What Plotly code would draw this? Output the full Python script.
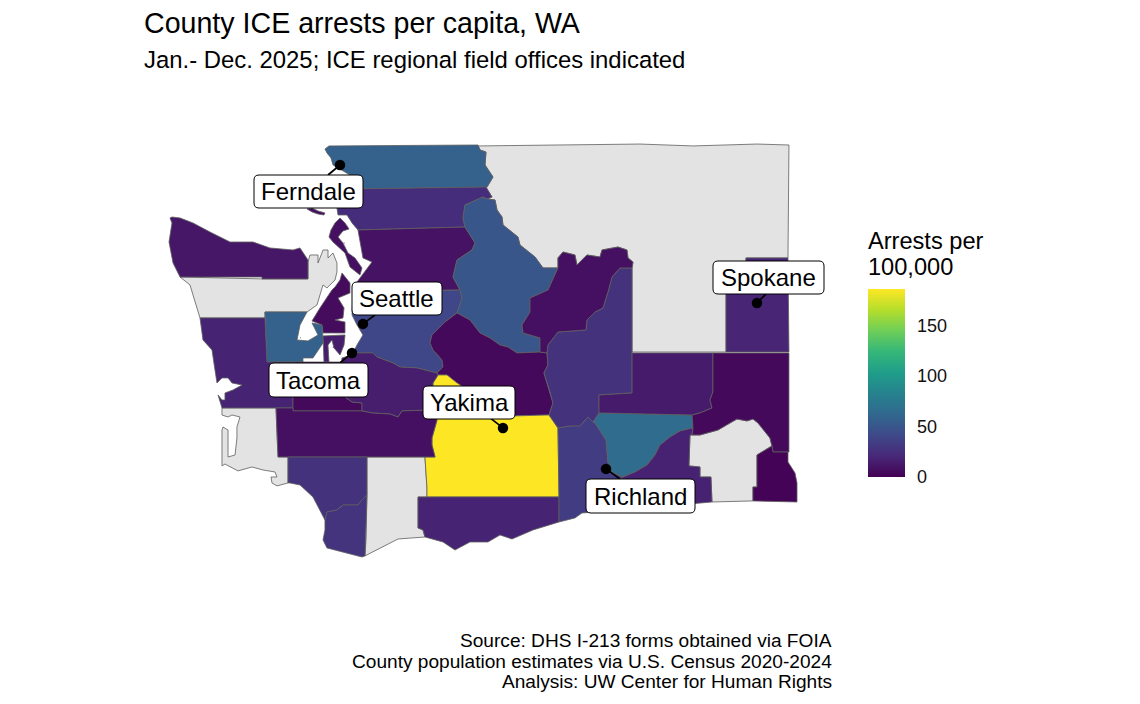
import plotly.graph_objects as go
from plotly.colors import sample_colorscale

# ---- values (arrests per 100,000; None = no data) ----
COUNTIES = ["Northeast", "Jefferson", "Pacific", "Skamania", "Columbia",
            "Whatcom", "Skagit", "San Juan", "Island", "Snohomish", "King", "Chelan", "Kittitas",
            "Yakima", "Clallam", "Kitsap", "Mason", "Grays Harbor", "Thurston", "Pierce",
            "Key Peninsula", "Lewis", "Cowlitz", "Clark", "Klickitat", "Benton", "Franklin",
            "Walla Walla", "Grant", "Douglas", "Adams", "Whitman", "Asotin", "Spokane"]
ARRESTS = [None, None, None, None, None,
           58, 24, 8, 8, 9, 40, 50, 4,
           186, 11, 6, 58, 18, 4, 15,
           15, 8, 27, 28, 18, 33, 65,
           17, 27, 8, 14, 4, 1, 19]
COLORBAR_TICKS = [0, 50, 100, 150]
COLOR_MAX = 186

CITIES = ["Ferndale", "Seattle", "Tacoma", "Yakima", "Richland", "Spokane"]
CITY_LON = [-122.618, -122.333, -122.469, -120.594, -119.314, -117.439]
CITY_LAT = [48.832, 47.497, 47.253, 46.623, 46.279, 47.673]
LEADER_LON = [-122.767, -122.184, -122.618, -120.755, -119.141, -117.327]
LEADER_LAT = [48.748, 47.572, 47.169, 46.707, 46.194, 47.749]

# ---- county outlines (lon, lat in degrees) ----
NORTHEAST = [(-120.904,48.992),(-118.892,49.008),(-118.234,48.992),(-117.439,49.008),(-117.042,49.000),(-117.054,48.051),(-117.576,48.051),(-117.576,47.824),(-117.824,47.824),(-117.824,47.261),(-118.991,47.261),(-118.991,47.967),(-118.979,48.017),(-119.041,48.051),(-119.054,48.118),(-119.165,48.143),(-119.364,48.118),(-119.389,48.059),(-119.551,48.076),(-119.675,47.992),(-119.700,48.076),(-119.849,48.101),(-119.911,48.051),(-119.911,47.967),(-120.097,47.967),(-120.196,48.059),(-120.383,48.160),(-120.408,48.227),(-120.594,48.328),(-120.606,48.395),(-120.668,48.454),(-120.693,48.538),(-120.792,48.546),(-120.730,48.563),(-120.805,48.647),(-120.792,48.647),(-120.718,48.731),(-120.817,48.832),(-120.805,48.941),(-120.879,48.958)]
JEFFERSON = [(-124.605,47.891),(-123.587,47.875),(-123.016,47.875),(-123.016,48.017),(-122.991,48.076),(-122.891,48.076),(-122.891,48.009),(-122.829,48.118),(-122.767,48.118),(-122.767,48.051),(-122.705,48.093),(-122.656,48.009),(-122.656,47.933),(-122.680,47.866),(-122.780,47.799),(-122.829,47.824),(-122.867,47.740),(-122.904,47.656),(-123.028,47.597),(-123.550,47.597),(-123.550,47.547),(-124.357,47.547),(-124.444,47.740),(-124.481,47.824)]
PACIFIC = [(-124.084,46.791),(-123.413,46.791),(-123.401,46.564),(-123.388,46.379),(-123.264,46.379),(-123.264,46.161),(-123.401,46.136),(-123.463,46.161),(-123.475,46.211),(-123.401,46.211),(-123.425,46.253),(-123.574,46.270),(-123.711,46.295),(-123.885,46.262),(-124.047,46.320),(-124.084,46.304),(-124.084,46.606),(-124.071,46.631),(-124.009,46.606),(-124.009,46.379),(-123.922,46.396),(-123.898,46.539),(-123.898,46.631),(-123.860,46.715),(-123.960,46.732),(-124.009,46.715),(-124.084,46.732)]
SKAMANIA = [(-122.283,46.379),(-121.563,46.379),(-121.538,46.119),(-121.538,46.043),(-121.649,46.043),(-121.649,45.783),(-121.587,45.766),(-121.563,45.707),(-121.898,45.690),(-122.308,45.548),(-122.295,45.682),(-122.283,46.060)]
COLUMBIA = [(-118.271,46.564),(-118.147,46.564),(-117.923,46.606),(-117.774,46.665),(-117.688,46.698),(-117.563,46.682),(-117.489,46.698),(-117.427,46.665),(-117.278,46.539),(-117.253,46.472),(-117.439,46.396),(-117.439,46.127),(-117.489,46.127),(-117.489,46.010),(-117.998,46.001),(-118.011,46.211),(-118.147,46.211),(-118.147,46.295),(-118.284,46.304)]
WHATCOM = [(-122.755,48.992),(-120.904,49.000),(-120.879,48.958),(-120.805,48.941),(-120.817,48.832),(-120.718,48.731),(-120.792,48.647),(-122.531,48.630),(-122.494,48.748),(-122.705,48.832),(-122.730,48.891),(-122.780,48.933),(-122.805,48.966)]
SKAGIT = [(-122.531,48.630),(-120.879,48.647),(-120.805,48.647),(-120.730,48.563),(-120.792,48.546),(-120.842,48.563),(-121.066,48.496),(-121.091,48.387),(-121.066,48.311),(-122.395,48.286),(-122.469,48.345),(-122.531,48.412),(-122.643,48.412),(-122.656,48.471),(-122.531,48.496)]
SAN_JUAN = [(-123.028,48.463),(-122.966,48.471),(-122.891,48.446),(-122.805,48.429),(-122.817,48.412),(-122.891,48.420),(-122.966,48.438)]
ISLAND = [(-122.618,48.387),(-122.556,48.345),(-122.506,48.294),(-122.581,48.278),(-122.643,48.227),(-122.581,48.177),(-122.519,48.093),(-122.432,48.051),(-122.345,47.967),(-122.370,47.908),(-122.494,47.975),(-122.556,48.093),(-122.705,48.185),(-122.755,48.227),(-122.730,48.286),(-122.680,48.345)]
SNOHOMISH = [(-122.395,48.286),(-121.066,48.311),(-120.941,48.177),(-120.979,48.118),(-121.165,48.034),(-121.215,47.891),(-121.128,47.782),(-122.457,47.765),(-122.407,47.849),(-122.283,47.967),(-122.221,48.017),(-122.333,48.051)]
KING = [(-122.457,47.765),(-121.128,47.782),(-121.103,47.715),(-121.165,47.589),(-121.314,47.513),(-121.476,47.404),(-121.500,47.337),(-121.463,47.278),(-121.351,47.194),(-121.339,47.135),(-121.413,47.085),(-121.662,47.127),(-121.873,47.135),(-121.960,47.169),(-122.159,47.219),(-122.208,47.253),(-122.457,47.253),(-122.407,47.320),(-122.333,47.404),(-122.407,47.488),(-122.469,47.572)]
CHELAN = [(-120.842,48.563),(-120.792,48.546),(-120.693,48.538),(-120.668,48.454),(-120.606,48.395),(-120.594,48.328),(-120.408,48.227),(-120.383,48.160),(-120.196,48.059),(-120.097,47.967),(-119.911,47.967),(-120.035,47.782),(-120.258,47.715),(-120.258,47.597),(-120.358,47.488),(-120.345,47.421),(-120.134,47.379),(-120.134,47.261),(-120.420,47.253),(-120.532,47.303),(-120.631,47.320),(-120.755,47.379),(-120.879,47.421),(-121.004,47.530),(-121.165,47.589),(-121.103,47.715),(-121.128,47.782),(-121.215,47.891),(-121.165,48.034),(-120.979,48.118),(-120.941,48.177),(-121.066,48.311),(-121.091,48.387),(-121.066,48.496)]
KITTITAS = [(-121.165,47.589),(-121.004,47.530),(-120.879,47.421),(-120.755,47.379),(-120.631,47.320),(-120.532,47.303),(-120.420,47.253),(-120.134,47.261),(-120.047,47.253),(-120.035,47.152),(-120.085,47.085),(-120.010,46.925),(-119.973,46.833),(-120.022,46.732),(-120.445,46.724),(-120.755,46.816),(-121.165,47.001),(-121.289,47.068),(-121.401,47.068),(-121.413,47.085),(-121.339,47.135),(-121.351,47.194),(-121.463,47.278),(-121.500,47.337),(-121.476,47.404),(-121.314,47.513)]
YAKIMA = [(-121.401,47.068),(-121.289,47.068),(-121.165,47.001),(-120.755,46.816),(-120.445,46.724),(-120.022,46.732),(-119.911,46.623),(-119.898,46.043),(-121.538,46.043),(-121.538,46.119),(-121.563,46.379),(-121.438,46.379),(-121.476,46.480),(-121.476,46.539),(-121.438,46.631),(-121.413,46.690),(-121.476,46.774),(-121.463,47.001)]
CLALLAM = [(-124.730,48.387),(-124.705,48.395),(-124.605,48.387),(-124.444,48.345),(-124.233,48.269),(-123.984,48.185),(-123.699,48.185),(-123.488,48.135),(-123.202,48.118),(-123.115,48.135),(-123.016,48.034),(-123.016,47.875),(-123.587,47.875),(-123.587,47.891),(-124.605,47.891),(-124.692,48.009),(-124.742,48.185),(-124.705,48.345)]
KITSAP = [(-122.593,47.925),(-122.494,47.841),(-122.494,47.757),(-122.643,47.715),(-122.568,47.631),(-122.581,47.547),(-122.680,47.530),(-122.556,47.513),(-122.556,47.421),(-122.829,47.421),(-122.842,47.488),(-122.966,47.522),(-122.867,47.631),(-122.718,47.782),(-122.680,47.807),(-122.618,47.866)]
MASON = [(-123.550,47.597),(-123.028,47.597),(-123.115,47.488),(-123.152,47.362),(-123.016,47.354),(-122.891,47.404),(-122.966,47.505),(-122.842,47.488),(-122.829,47.379),(-122.829,47.337),(-122.904,47.261),(-122.954,47.211),(-123.078,47.211),(-123.078,47.177),(-123.525,47.177),(-123.537,47.362),(-123.550,47.547)]
GRAYS_HARBOR = [(-124.357,47.547),(-123.550,47.547),(-123.525,47.177),(-123.202,47.177),(-123.202,46.791),(-123.413,46.791),(-124.084,46.791),(-124.133,46.900),(-124.084,46.858),(-124.047,46.858),(-124.047,46.917),(-123.947,46.942),(-123.835,46.984),(-123.960,47.001),(-124.009,47.043),(-124.084,47.043),(-124.146,47.001),(-124.171,47.110),(-124.208,47.278),(-124.320,47.362)]
THURSTON = [(-123.202,47.177),(-122.556,47.177),(-122.556,46.883),(-122.469,46.841),(-122.345,46.833),(-122.345,46.766),(-123.202,46.766)]
PIERCE = [(-122.457,47.253),(-122.208,47.253),(-122.159,47.219),(-121.960,47.169),(-121.873,47.135),(-121.662,47.127),(-121.413,47.085),(-121.401,47.068),(-121.463,47.001),(-121.476,46.774),(-121.848,46.766),(-121.898,46.715),(-121.997,46.740),(-122.221,46.749),(-122.345,46.766),(-122.345,46.833),(-122.469,46.841),(-122.556,46.883),(-122.643,46.984),(-122.593,47.211),(-122.469,47.236)]
KEY_PENINSULA = [(-122.829,47.396),(-122.556,47.404),(-122.568,47.320),(-122.618,47.236),(-122.693,47.295),(-122.718,47.362),(-122.767,47.320),(-122.755,47.177),(-122.817,47.177)]
LEWIS = [(-123.413,46.791),(-123.202,46.791),(-123.202,46.766),(-122.345,46.766),(-122.221,46.749),(-121.997,46.740),(-121.898,46.715),(-121.848,46.766),(-121.476,46.774),(-121.413,46.690),(-121.438,46.631),(-121.476,46.539),(-121.476,46.480),(-121.438,46.379),(-123.388,46.379),(-123.401,46.564)]
COWLITZ = [(-123.264,46.379),(-122.283,46.379),(-122.283,46.060),(-122.345,46.018),(-122.395,45.976),(-122.581,45.976),(-122.656,45.934),(-122.780,45.917),(-122.805,45.850),(-122.954,46.043),(-123.115,46.144),(-123.239,46.161),(-123.264,46.161)]
CLARK = [(-122.805,45.850),(-122.780,45.917),(-122.656,45.934),(-122.581,45.976),(-122.395,45.976),(-122.345,46.018),(-122.283,46.060),(-122.295,45.682),(-122.308,45.548),(-122.345,45.539),(-122.531,45.573),(-122.780,45.615),(-122.829,45.682),(-122.805,45.766)]
KLICKITAT = [(-121.649,46.043),(-119.898,46.043),(-119.898,45.833),(-120.221,45.766),(-120.482,45.690),(-120.631,45.724),(-120.780,45.665),(-121.004,45.665),(-121.190,45.598),(-121.339,45.665),(-121.563,45.707),(-121.587,45.766),(-121.649,45.783)]
BENTON = [(-119.911,46.623),(-119.762,46.640),(-119.638,46.640),(-119.538,46.715),(-119.476,46.673),(-119.451,46.665),(-119.314,46.522),(-119.290,46.337),(-119.240,46.253),(-119.103,46.211),(-119.414,45.917),(-119.613,45.909),(-119.700,45.867),(-119.898,45.833),(-119.898,46.043)]
FRANKLIN = [(-119.401,46.749),(-118.246,46.732),(-118.234,46.623),(-118.395,46.598),(-118.519,46.547),(-118.644,46.480),(-118.706,46.396),(-118.805,46.312),(-118.954,46.253),(-119.103,46.211),(-119.240,46.253),(-119.290,46.337),(-119.314,46.522),(-119.451,46.665),(-119.476,46.673)]
WALLA_WALLA = [(-119.103,46.211),(-118.954,46.253),(-118.805,46.312),(-118.706,46.396),(-118.644,46.480),(-118.519,46.547),(-118.395,46.598),(-118.234,46.623),(-118.246,46.564),(-118.271,46.564),(-118.284,46.304),(-118.147,46.295),(-118.147,46.211),(-118.011,46.211),(-117.998,46.001),(-119.414,45.917)]
GRANT = [(-119.141,47.967),(-118.991,47.967),(-118.991,46.917),(-119.401,46.900),(-119.401,46.749),(-119.476,46.673),(-119.538,46.715),(-119.638,46.640),(-119.762,46.640),(-119.911,46.623),(-120.022,46.732),(-119.973,46.833),(-120.010,46.925),(-120.085,47.085),(-120.035,47.152),(-120.047,47.253),(-120.035,47.320),(-119.911,47.429),(-119.563,47.446),(-119.551,47.530),(-119.451,47.597),(-119.352,47.631),(-119.290,47.765),(-119.240,47.891)]
DOUGLAS = [(-119.911,48.051),(-119.849,48.101),(-119.700,48.076),(-119.675,47.992),(-119.551,48.076),(-119.389,48.059),(-119.364,48.118),(-119.165,48.143),(-119.054,48.118),(-119.041,48.051),(-118.979,48.017),(-118.991,47.967),(-119.141,47.967),(-119.240,47.891),(-119.290,47.765),(-119.352,47.631),(-119.451,47.597),(-119.551,47.530),(-119.563,47.446),(-119.911,47.429),(-120.035,47.320),(-120.047,47.253),(-120.134,47.261),(-120.134,47.379),(-120.345,47.421),(-120.358,47.488),(-120.258,47.597),(-120.258,47.715),(-120.035,47.782),(-119.911,47.967)]
ADAMS = [(-118.991,47.253),(-117.986,47.253),(-117.986,46.925),(-118.023,46.858),(-117.998,46.791),(-118.147,46.749),(-118.246,46.732),(-119.401,46.749),(-119.401,46.900),(-118.991,46.917)]
WHITMAN = [(-117.986,47.253),(-117.042,47.253),(-117.042,46.421),(-117.240,46.421),(-117.253,46.472),(-117.278,46.539),(-117.427,46.665),(-117.489,46.698),(-117.563,46.682),(-117.688,46.698),(-117.774,46.665),(-117.923,46.606),(-118.147,46.564),(-118.246,46.564),(-118.234,46.623),(-118.246,46.732),(-118.147,46.749),(-117.998,46.791),(-118.023,46.858),(-117.986,46.925)]
ASOTIN = [(-117.439,46.396),(-117.253,46.472),(-117.240,46.421),(-117.054,46.421),(-117.054,46.337),(-116.967,46.245),(-116.942,46.161),(-116.942,46.001),(-117.489,46.010),(-117.489,46.127),(-117.439,46.127)]
SPOKANE = [(-117.576,48.051),(-117.054,48.051),(-117.042,47.261),(-117.824,47.261),(-117.824,47.824),(-117.576,47.824)]

OUTLINES = [NORTHEAST, JEFFERSON, PACIFIC, SKAMANIA, COLUMBIA,
            WHATCOM, SKAGIT, SAN_JUAN, ISLAND, SNOHOMISH, KING, CHELAN, KITTITAS,
            YAKIMA, CLALLAM, KITSAP, MASON, GRAYS_HARBOR, THURSTON, PIERCE,
            KEY_PENINSULA, LEWIS, COWLITZ, CLARK, KLICKITAT, BENTON, FRANKLIN,
            WALLA_WALLA, GRANT, DOUGLAS, ADAMS, WHITMAN, ASOTIN, SPOKANE]

W, H = 1140, 704
NA_COLOR = "#E3E3E3"
BORDER = "#5E5E5E"


def px(x):
    return x / W


def py(y):
    return 1 - y / H


fig = go.Figure()

# colour scale carrier, hidden beneath the county fills
have = [i for i, v in enumerate(ARRESTS) if v is not None]
fig.add_trace(go.Scatter(
    x=[sum(p[0] for p in OUTLINES[i]) / len(OUTLINES[i]) for i in have],
    y=[sum(p[1] for p in OUTLINES[i]) / len(OUTLINES[i]) for i in have],
    mode="markers", hoverinfo="skip", showlegend=False,
    marker=dict(size=1, color=[ARRESTS[i] for i in have], colorscale="Viridis",
                cmin=0, cmax=COLOR_MAX, showscale=True,
                colorbar=dict(lenmode="pixels", len=187.5, thickness=37, thicknessmode="pixels",
                              x=px(868), xanchor="left", y=py(477), yanchor="bottom",
                              xpad=0, ypad=0, outlinewidth=0, tickvals=COLORBAR_TICKS,
                              ticks="outside", ticklen=9, tickcolor="rgba(0,0,0,0)",
                              tickwidth=1, tickfont=dict(family="Liberation Sans", size=18, color="#111")))))

for name, value, outline in zip(COUNTIES, ARRESTS, OUTLINES):
    color = NA_COLOR if value is None else sample_colorscale("Viridis", [value / COLOR_MAX])[0]
    xs = [p[0] for p in outline] + [outline[0][0]]
    ys = [p[1] for p in outline] + [outline[0][1]]
    fig.add_trace(go.Scatter(x=xs, y=ys, mode="lines", fill="toself", fillcolor=color,
                             line=dict(color=BORDER, width=0.8), name=name, showlegend=False,
                             hoverinfo="text", text=f"{name}: {value if value is not None else 'no data'}"))

for i in range(len(CITIES)):
    fig.add_trace(go.Scatter(x=[CITY_LON[i], LEADER_LON[i]], y=[CITY_LAT[i], LEADER_LAT[i]], mode="lines",
                             line=dict(color="black", width=1.7), showlegend=False, hoverinfo="skip"))
fig.add_trace(go.Scatter(x=CITY_LON, y=CITY_LAT, mode="markers", text=CITIES, hoverinfo="text",
                         marker=dict(color="black", size=10.5), showlegend=False))

# label boxes: (left, top, right, bottom) in page pixels
BOXES = {"Ferndale": (254, 175, 363, 208), "Seattle": (352, 282, 442, 315), "Tacoma": (269, 363, 368, 397),
         "Yakima": (423, 386, 515, 419), "Richland": (586, 479, 695, 513), "Spokane": (713, 261, 824, 294)}
shapes, annotations = [], []
r = 5
for city, (l, t, rt, b) in BOXES.items():
    path = (f"M {px(l+r)} {py(t)} L {px(rt-r)} {py(t)} Q {px(rt)} {py(t)} {px(rt)} {py(t+r)} "
            f"L {px(rt)} {py(b-r)} Q {px(rt)} {py(b)} {px(rt-r)} {py(b)} L {px(l+r)} {py(b)} "
            f"Q {px(l)} {py(b)} {px(l)} {py(b-r)} L {px(l)} {py(t+r)} Q {px(l)} {py(t)} {px(l+r)} {py(t)} Z")
    shapes.append(dict(type="path", xref="paper", yref="paper", path=path, fillcolor="white",
                       line=dict(color="black", width=1), layer="above"))
    annotations.append(dict(text=city, xref="paper", yref="paper", x=px((l + rt) / 2), y=py((t + b) / 2),
                            xanchor="center", yanchor="middle", showarrow=False,
                            font=dict(family="Liberation Sans", size=24, color="black")))

# short white ticks on both edges of the colour bar
for v in COLORBAR_TICKS:
    yy = 476.7 - v * 187.2 / COLOR_MAX
    for x0, x1 in ((868, 875), (898, 905)):
        shapes.append(dict(type="line", xref="paper", yref="paper", x0=px(x0), x1=px(x1), y0=py(yy), y1=py(yy),
                           line=dict(color="rgba(255,255,255,0.85)", width=1), layer="above"))


def note(text, x, y, size, anchor="left"):
    annotations.append(dict(text=text, xref="paper", yref="paper", x=px(x), y=py(y), xanchor=anchor,
                            yanchor="middle", showarrow=False,
                            font=dict(family="Liberation Sans", size=size, color="black")))


note("County ICE arrests per capita, WA", 142, 23, 28.6)
note("Jan.- Dec. 2025; ICE regional field offices indicated", 142, 60, 23.9)
note("Arrests per", 866, 241, 23.6)
note("100,000", 866, 267, 23.6)
note("Source: DHS I-213 forms obtained via FOIA", 834, 640, 19.1, "right")
note("County population estimates via U.S. Census 2020-2024", 834, 661, 19.1, "right")
note("Analysis: UW Center for Human Rights", 834, 681, 19.1, "right")

fig.update_layout(
    width=W, height=H, margin=dict(l=0, r=0, t=0, b=0), paper_bgcolor="white", plot_bgcolor="white",
    xaxis=dict(range=[-126.841, -112.682], domain=[0, 1], visible=False, fixedrange=True),
    yaxis=dict(range=[44.304, 50.218], domain=[0, 1], visible=False, fixedrange=True),
    shapes=shapes, annotations=annotations, font=dict(family="Liberation Sans"), showlegend=False,
)
fig.write_html("out.html", config={"displayModeBar": False},
               post_script="document.body.style.margin='0';")
